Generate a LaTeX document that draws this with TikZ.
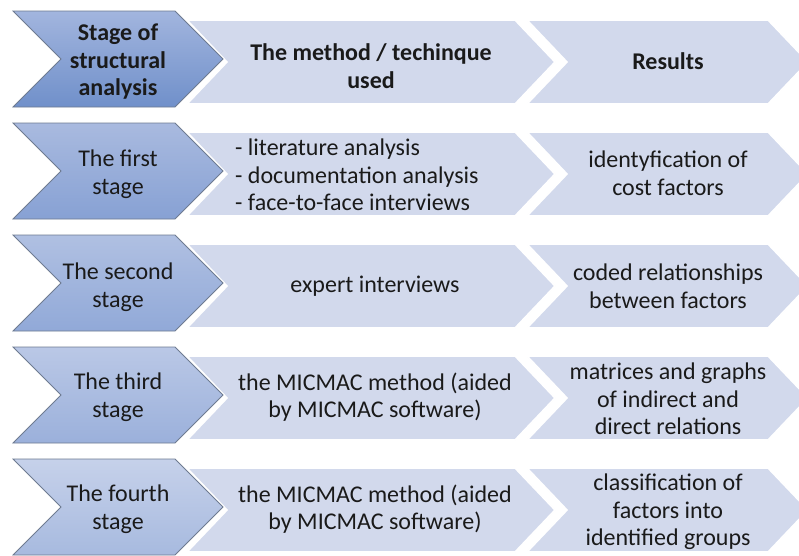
\documentclass[tikz,border=0pt]{standalone}
\usepackage{fontspec}
\setmainfont{Carlito}
\definecolor{lightfill}{HTML}{D2D9EC}
\definecolor{blueline}{HTML}{6E7B91}
\definecolor{txt}{HTML}{1A1A1A}
\definecolor{bt0}{HTML}{A2B5DE}\definecolor{bb0}{HTML}{7090CA}
\definecolor{bt1}{HTML}{A9BADF}\definecolor{bb1}{HTML}{87A1D4}
\definecolor{bt2}{HTML}{B0C0E2}\definecolor{bb2}{HTML}{91A9D8}
\definecolor{bt3}{HTML}{BAC8E6}\definecolor{bb3}{HTML}{9BB0DB}
\definecolor{bt4}{HTML}{C6D1EA}\definecolor{bb4}{HTML}{A7BADF}
\newcommand{\chevshape}[6]{%
  \path[#1] (#2,{#5-#6}) -- (#4,{#5-#6}) -- ({#4+#3},#5) -- (#4,{#5+#6})
    -- (#2,{#5+#6}) -- ({#2+#3},#5) -- cycle;}
\tikzset{
  lightchev/.style={fill=lightfill, draw=white, line width=1.6pt, line join=miter},
  lbl/.style={font=\fontsize{24}{27.5}\selectfont, text=txt, align=center, inner sep=0pt},
  hdr/.style={lbl, font=\fontsize{24}{27.5}\selectfont\bfseries},
}
\begin{document}
\begin{tikzpicture}[x=1pt,y=-1pt]
\useasboundingbox (0,0) rectangle (799,555);
\fill[white] (0,0) rectangle (799,555);
\foreach \i in {0,...,4}{
  \pgfmathsetmacro{\yc}{59+112*\i}
  \pgfmathsetmacro{\yl}{\yc+3}
  % method chevron
  \chevshape{lightchev}{187}{40}{515}{\yl}{42}
  % results chevron
  \chevshape{lightchev}{527}{40}{768}{\yl}{42}
  % stage chevron
  \chevshape{top color=bt\i, bottom color=bb\i}{13}{48}{175}{\yc}{48}
  \chevshape{draw=blueline, line width=0.8pt, line join=miter}{13}{48}{175}{\yc}{48}
}
% row 1
\node[hdr] (s0) at (118,62) {Stage of\\structural\\analysis};
\node[hdr] (m0) at (371,66) {The method / techinque\\used};
\node[hdr] (r0) at (668,61) {Results};
% row 2
\node[lbl] (s1) at (118,174) {The first\\stage};
\node[lbl, align=left, anchor=west] (m1) at (235,175) {- literature analysis\\- documentation analysis\\- face-to-face interviews};
\node[lbl] (r1) at (668,173) {identyfication of\\cost factors};
% row 3
\node[lbl] (s2) at (118,287) {The second\\stage};
\node[lbl] (m2) at (375,286) {expert interviews};
\node[lbl] (r2) at (668,286) {coded relationships\\between factors};
% row 4
\node[lbl] (s3) at (118,397) {The third\\stage};
\node[lbl] (m3) at (375,397) {the MICMAC method (aided\\by MICMAC software)};
\node[lbl] (r3) at (668,399) {matrices and graphs\\of indirect and\\direct relations};
% row 5
\node[lbl] (s4) at (118,509) {The fourth\\stage};
\node[lbl] (m4) at (375,509) {the MICMAC method (aided\\by MICMAC software)};
\node[lbl] (r4) at (668,512) {classification of\\factors into\\identified groups};
\end{tikzpicture}
\end{document}
